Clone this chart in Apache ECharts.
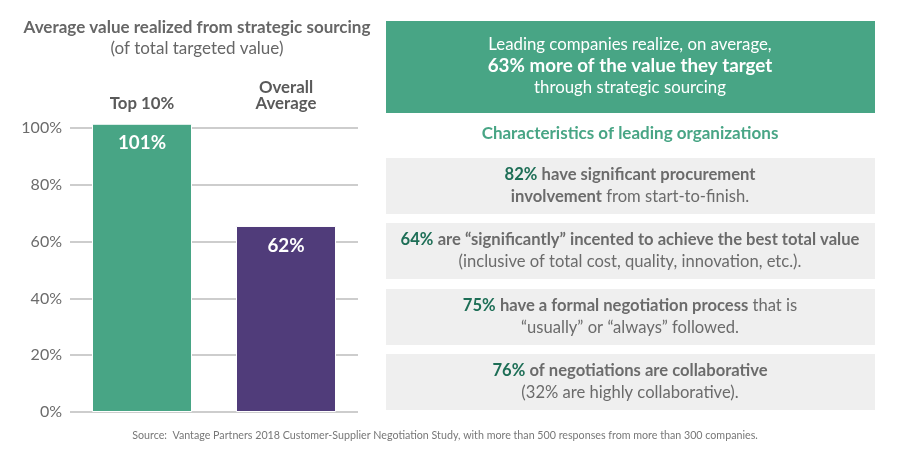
<!DOCTYPE html>
<html><head><meta charset="utf-8">
<script src="https://cdn.jsdelivr.net/npm/echarts@6/dist/echarts.min.js"></script>
<style>html,body{margin:0;padding:0;background:#fff}#c{width:900px;height:450px}</style>
</head><body><div id="c"></div>
<script>
var categories = ['Top 10%', 'Overall\nAverage'];
var barValues = [101.5, 65.5];
var barLabels = ['101%', '62%'];
var barColors = ['#48a585', '#503c7a'];
var yTicks = [0, 20, 40, 60, 80, 100];

var FONT = 'Lato';
var GREEN = '#48a585', DKGREEN = '#1d6e56', GRAY = '#6b6b6b';
var FS = 16.6;
var richStyles = {
  g: {fontFamily: FONT, fontWeight: 'bold', fontSize: FS, fill: DKGREEN, color: DKGREEN},
  b: {fontFamily: FONT, fontWeight: 'bold', fontSize: FS, fill: GRAY, color: GRAY},
  n: {fontFamily: FONT, fontWeight: 'normal', fontSize: FS, fill: GRAY, color: GRAY}
};
function box(y, h, fill) {
  return {type: 'rect', shape: {x: 386, y: y, width: 489, height: h}, style: {fill: fill}, silent: true};
}
function rtext(y, txt) {
  return {type: 'text', x: 630, y: y, style: {text: txt, rich: richStyles, align: 'center', verticalAlign: 'middle', lineHeight: 22, fontFamily: FONT, fontSize: FS}};
}
var chart = echarts.init(document.getElementById('c'));
chart.setOption({
  animation: false,
  grid: {left: 70, right: 542, top: 128, bottom: 38},
  xAxis: {
    type: 'category', data: categories, position: 'top',
    axisLine: {show: false}, axisTick: {show: false},
    axisLabel: {margin: 16, color: '#5a5a5a', fontFamily: FONT, fontWeight: 'bold', fontSize: 16.8, lineHeight: 16, verticalAlign: 'bottom'}
  },
  yAxis: {
    type: 'value', min: 0, max: 100, interval: 20,
    axisLine: {show: false}, axisTick: {show: false},
    splitLine: {lineStyle: {color: '#bdbdbd', width: 1.5}},
    axisLabel: {margin: 8, color: '#6b6b6b', fontFamily: FONT, fontSize: 16, formatter: function (v) { return v + '%'; }}
  },
  series: [{
    type: 'bar', clip: false, barWidth: 100,
    data: barValues.map(function (v, i) { return {value: v, itemStyle: {color: barColors[i]}}; }),
    itemStyle: {borderColor: '#fff', borderWidth: 1},
    label: {show: true, position: 'insideTop', distance: 10, color: '#fff', fontFamily: FONT, fontWeight: 'bold', fontSize: 18.8,
      formatter: function (p) { return barLabels[p.dataIndex]; }}
  }],
  graphic: [
    {type: 'text', x: 197, y: 28, style: {text: 'Average value realized from strategic sourcing', align: 'center', verticalAlign: 'middle', fontFamily: FONT, fontWeight: 'bold', fontSize: 17, fill: '#666'}},
    {type: 'text', x: 197, y: 49, style: {text: '(of total targeted value)', align: 'center', verticalAlign: 'middle', fontFamily: FONT, fontSize: 17, fill: '#666'}},
    box(21, 92, GREEN),
    {type: 'text', x: 630, y: 45, style: {text: 'Leading companies realize, on average,', align: 'center', verticalAlign: 'middle', fontFamily: FONT, fontSize: 16.8, fill: '#fff'}},
    {type: 'text', x: 630, y: 66, style: {text: '63% more of the value they target', align: 'center', verticalAlign: 'middle', fontFamily: FONT, fontWeight: 'bold', fontSize: 18.8, fill: '#fff'}},
    {type: 'text', x: 630, y: 88, style: {text: 'through strategic sourcing', align: 'center', verticalAlign: 'middle', fontFamily: FONT, fontSize: 16.8, fill: '#fff'}},
    {type: 'text', x: 630, y: 134, style: {text: 'Characteristics of leading organizations', align: 'center', verticalAlign: 'middle', fontFamily: FONT, fontWeight: 'bold', fontSize: 17, fill: GREEN}},
    box(158, 56, '#efefef'),
    box(223, 56, '#efefef'),
    box(289, 56, '#efefef'),
    box(354, 56, '#efefef'),
    rtext(186, '{g|82%} {b|have significant procurement}\n{b|involvement} {n|from start-to-finish.}'),
    rtext(251, '{g|64%} {b|are \u201csignificantly\u201d incented to achieve the best total value}\n{n|(inclusive of total cost, quality, innovation, etc.).}'),
    rtext(317, '{g|75%} {b|have a formal negotiation process} {n|that is}\n{n|\u201cusually\u201d or \u201calways\u201d followed.}'),
    rtext(382, '{g|76%} {b|of negotiations are collaborative}\n{n|(32% are highly collaborative).}'),
    {type: 'text', x: 445, y: 436, style: {text: 'Source:  Vantage Partners 2018 Customer-Supplier Negotiation Study, with more than 500 responses from more than 300 companies.', align: 'center', verticalAlign: 'middle', fontFamily: FONT, fontSize: 10.7, fill: '#777'}}
  ]
});
</script></body></html>
